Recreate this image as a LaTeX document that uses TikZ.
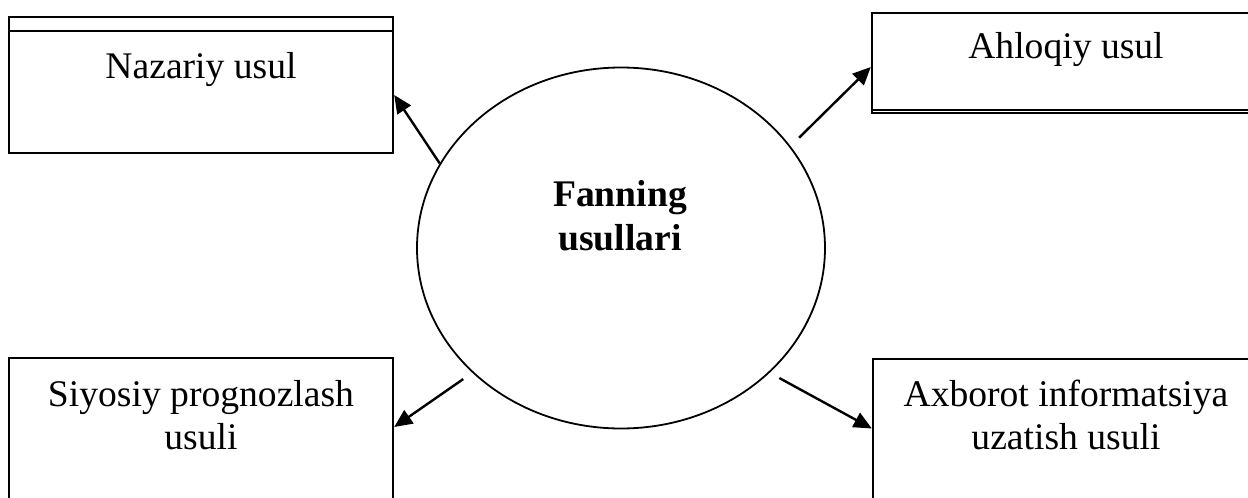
\documentclass[tikz,border=0pt]{standalone}
\usepackage{fontspec}
\setmainfont{Liberation Serif}
\usetikzlibrary{positioning,shapes.geometric,arrows.meta}
\tikzset{
  usulbox/.style={draw, line width=1.2pt, rectangle, inner sep=0pt},
  lbl/.style={font=\fontsize{18.8}{21.5}\selectfont, align=center, inner sep=0pt}
}
\begin{document}
\begin{tikzpicture}[x=0.5pt, y=-0.5pt, >={Triangle[length=9pt,width=8pt]}, line width=1.2pt]
\useasboundingbox (0,0) rectangle (1248,498);

% markaz
\node[ellipse, draw, line width=0.9pt, minimum width=204pt, minimum height=180.5pt, inner sep=0pt] (fan) at (621,248) {};
\node[lbl, font=\fontsize{18.8}{22}\selectfont\bfseries] (fantxt) at (620,216) {Fanning\\usullari};

% qutilar
\node[usulbox, minimum width=192pt, minimum height=68pt] (naz) at (201,85) {};
\draw[line width=1pt] ([yshift=-7.5pt]naz.north west) -- ([yshift=-7.5pt]naz.north east);
\node[lbl] (naztxt) at (201,70) {Nazariy usul};

\node[usulbox, minimum width=194pt, minimum height=50pt] (ahl) at (1066,63) {};
\draw[line width=1pt] ([yshift=2pt]ahl.south west) -- ([yshift=2pt]ahl.south east);
\node[lbl] (ahltxt) at (1066,50) {Ahloqiy usul};

\node[usulbox, minimum width=192pt, minimum height=76pt] (siy) at (201,434) {};
\node[lbl] (siytxt) at (201,415) {Siyosiy prognozlash\\usuli};

\node[usulbox, minimum width=193.5pt, minimum height=75.5pt] (axb) at (1066.5,434.5) {};
\node[lbl] (axbtxt) at (1066,415) {Axborot informatsiya\\uzatish usuli};

% strelkalar
\draw[->] (fan.155) -- ([yshift=-5pt]naz.east);
\draw[->, shorten <=6pt] (fan.31) -- ([yshift=-2pt]ahl.west);
\draw[->, shorten <=5.5pt] (fan.220) -- ([yshift=3.5pt]siy.east);
\draw[->, shorten <=5.5pt] (fan.320) -- ([yshift=3pt]axb.west);
\end{tikzpicture}
\end{document}
